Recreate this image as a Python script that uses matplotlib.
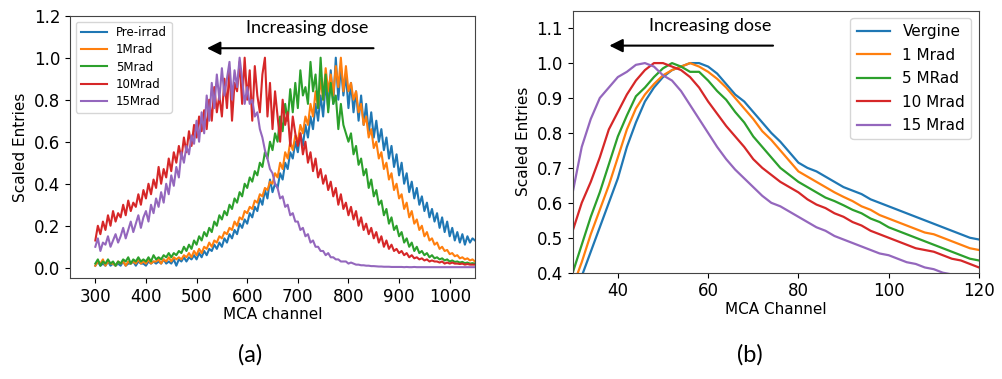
import matplotlib.pyplot as plt
import numpy as np

# ---- (a) raw MCA spectra, read every 5 channels from 300 to 1050 ----
channel_a = np.arange(300, 1051, 5)

pre_irrad = [
    0.01, 0.03, 0.01, 0.02, 0.01, 0.03, 0.01, 0.02, 0.01, 0.02,
    0.01, 0.03, 0.01, 0.02, 0.02, 0.03, 0.01, 0.03, 0.02, 0.02,
    0.01, 0.03, 0.02, 0.03, 0.02, 0.03, 0.02, 0.04, 0.02, 0.03,
    0.02, 0.04, 0.01, 0.04, 0.03, 0.05, 0.03, 0.05, 0.04, 0.06,
    0.04, 0.07, 0.05, 0.08, 0.06, 0.09, 0.08, 0.11, 0.09, 0.12,
    0.10, 0.14, 0.12, 0.16, 0.14, 0.18, 0.16, 0.21, 0.19, 0.23,
    0.21, 0.26, 0.24, 0.29, 0.27, 0.33, 0.30, 0.37, 0.33, 0.42,
    0.36, 0.40, 0.38, 0.45, 0.42, 0.50, 0.47, 0.55, 0.52, 0.60,
    0.55, 0.64, 0.58, 0.68, 0.62, 0.72, 0.66, 0.78, 0.70, 0.82,
    0.72, 0.88, 0.76, 0.94, 0.78, 1.00, 0.80, 0.96, 0.82, 0.92,
    0.76, 0.88, 0.74, 0.84, 0.70, 0.82, 0.68, 0.78, 0.64, 0.74,
    0.62, 0.70, 0.60, 0.66, 0.56, 0.62, 0.52, 0.58, 0.48, 0.54,
    0.44, 0.50, 0.40, 0.45, 0.36, 0.41, 0.33, 0.38, 0.30, 0.34,
    0.27, 0.31, 0.24, 0.28, 0.22, 0.26, 0.19, 0.24, 0.17, 0.22,
    0.15, 0.19, 0.13, 0.17, 0.12, 0.16, 0.11, 0.15, 0.12, 0.14,
    0.13]

mrad1 = [
    0.01, 0.03, 0.02, 0.04, 0.01, 0.03, 0.02, 0.02, 0.01, 0.03,
    0.02, 0.03, 0.01, 0.03, 0.02, 0.03, 0.02, 0.04, 0.02, 0.03,
    0.02, 0.04, 0.02, 0.03, 0.03, 0.04, 0.02, 0.04, 0.03, 0.05,
    0.03, 0.05, 0.04, 0.05, 0.04, 0.06, 0.05, 0.07, 0.05, 0.08,
    0.06, 0.09, 0.07, 0.10, 0.09, 0.12, 0.10, 0.13, 0.12, 0.15,
    0.14, 0.17, 0.16, 0.19, 0.18, 0.22, 0.20, 0.24, 0.23, 0.27,
    0.26, 0.29, 0.28, 0.32, 0.31, 0.35, 0.34, 0.38, 0.37, 0.41,
    0.40, 0.45, 0.43, 0.50, 0.47, 0.55, 0.52, 0.60, 0.56, 0.63,
    0.60, 0.68, 0.64, 0.72, 0.68, 0.78, 0.72, 0.84, 0.76, 0.90,
    0.80, 0.95, 0.84, 0.92, 0.82, 0.96, 0.86, 1.00, 0.84, 0.96,
    0.84, 0.88, 0.80, 0.84, 0.74, 0.78, 0.68, 0.72, 0.62, 0.66,
    0.57, 0.60, 0.52, 0.55, 0.47, 0.50, 0.42, 0.45, 0.37, 0.40,
    0.33, 0.35, 0.28, 0.31, 0.24, 0.27, 0.21, 0.23, 0.18, 0.20,
    0.15, 0.17, 0.13, 0.14, 0.11, 0.12, 0.09, 0.10, 0.08, 0.085,
    0.065, 0.07, 0.055, 0.06, 0.045, 0.05, 0.04, 0.045, 0.035, 0.04,
    0.03]

mrad5 = [
    0.02, 0.04, 0.01, 0.03, 0.02, 0.04, 0.02, 0.03, 0.01, 0.03,
    0.02, 0.04, 0.03, 0.05, 0.02, 0.04, 0.03, 0.05, 0.03, 0.04,
    0.03, 0.05, 0.03, 0.06, 0.04, 0.05, 0.04, 0.06, 0.05, 0.07,
    0.05, 0.07, 0.06, 0.08, 0.07, 0.10, 0.08, 0.11, 0.09, 0.13,
    0.11, 0.15, 0.13, 0.17, 0.15, 0.19, 0.17, 0.22, 0.20, 0.25,
    0.23, 0.27, 0.25, 0.30, 0.28, 0.33, 0.31, 0.36, 0.34, 0.40,
    0.38, 0.43, 0.41, 0.46, 0.44, 0.50, 0.48, 0.55, 0.52, 0.60,
    0.56, 0.64, 0.60, 0.72, 0.65, 0.78, 0.70, 0.85, 0.74, 0.88,
    0.76, 0.94, 0.82, 0.86, 0.78, 0.98, 0.84, 0.92, 0.76, 1.00,
    0.80, 0.92, 0.74, 0.88, 0.78, 0.82, 0.66, 0.78, 0.68, 0.64,
    0.60, 0.64, 0.54, 0.58, 0.49, 0.52, 0.44, 0.47, 0.38, 0.42,
    0.34, 0.37, 0.30, 0.32, 0.25, 0.28, 0.21, 0.24, 0.18, 0.20,
    0.15, 0.17, 0.12, 0.14, 0.10, 0.12, 0.08, 0.10, 0.07, 0.08,
    0.06, 0.07, 0.05, 0.06, 0.045, 0.05, 0.04, 0.045, 0.035, 0.04,
    0.03, 0.035, 0.028, 0.03, 0.025, 0.028, 0.022, 0.025, 0.02, 0.022,
    0.02]

mrad10 = [
    0.13, 0.20, 0.16, 0.22, 0.18, 0.25, 0.20, 0.27, 0.22, 0.26,
    0.24, 0.30, 0.25, 0.32, 0.27, 0.31, 0.29, 0.35, 0.30, 0.37,
    0.33, 0.40, 0.35, 0.42, 0.38, 0.48, 0.40, 0.47, 0.43, 0.52,
    0.46, 0.55, 0.50, 0.58, 0.52, 0.62, 0.55, 0.65, 0.58, 0.68,
    0.62, 0.72, 0.65, 0.75, 0.66, 0.80, 0.70, 0.86, 0.74, 0.82,
    0.72, 0.90, 0.76, 0.95, 0.70, 0.88, 0.84, 0.98, 0.78, 1.00,
    0.80, 0.94, 0.70, 0.96, 0.82, 0.74, 0.92, 1.00, 0.72, 0.88,
    0.66, 0.84, 0.72, 0.60, 0.80, 0.68, 0.74, 0.58, 0.72, 0.64,
    0.58, 0.64, 0.54, 0.60, 0.50, 0.55, 0.46, 0.52, 0.43, 0.47,
    0.40, 0.44, 0.37, 0.41, 0.34, 0.38, 0.30, 0.35, 0.28, 0.31,
    0.25, 0.29, 0.23, 0.27, 0.20, 0.24, 0.18, 0.21, 0.16, 0.19,
    0.14, 0.17, 0.12, 0.15, 0.10, 0.13, 0.09, 0.11, 0.08, 0.09,
    0.07, 0.08, 0.06, 0.07, 0.05, 0.06, 0.045, 0.05, 0.04, 0.045,
    0.035, 0.04, 0.03, 0.035, 0.03, 0.03, 0.025, 0.03, 0.02, 0.025,
    0.02, 0.025, 0.02, 0.02, 0.018, 0.02, 0.015, 0.018, 0.015, 0.015,
    0.015]

mrad15 = [
    0.10, 0.14, 0.08, 0.12, 0.11, 0.15, 0.10, 0.13, 0.16, 0.12,
    0.15, 0.19, 0.14, 0.18, 0.22, 0.17, 0.21, 0.25, 0.19, 0.24,
    0.27, 0.22, 0.30, 0.26, 0.33, 0.29, 0.36, 0.31, 0.40, 0.35,
    0.44, 0.39, 0.48, 0.43, 0.55, 0.50, 0.58, 0.54, 0.63, 0.59,
    0.70, 0.60, 0.74, 0.64, 0.82, 0.70, 0.88, 0.76, 0.92, 0.80,
    0.95, 0.82, 0.90, 0.98, 0.80, 0.94, 0.86, 1.00, 0.90, 0.78,
    0.86, 0.78, 0.80, 0.72, 0.74, 0.66, 0.62, 0.56, 0.52, 0.47,
    0.45, 0.40, 0.38, 0.33, 0.34, 0.29, 0.30, 0.25, 0.26, 0.22,
    0.22, 0.18, 0.19, 0.15, 0.16, 0.12, 0.13, 0.10, 0.10, 0.08,
    0.08, 0.06, 0.07, 0.05, 0.05, 0.04, 0.04, 0.03, 0.03, 0.03,
    0.02, 0.025, 0.02, 0.015, 0.015, 0.012, 0.012, 0.01, 0.01, 0.008,
    0.008, 0.007, 0.006, 0.006, 0.005, 0.005, 0.005, 0.004, 0.004, 0.004,
    0.004, 0.004, 0.003, 0.004, 0.003, 0.003, 0.004, 0.003, 0.003, 0.003,
    0.003, 0.003, 0.003, 0.003, 0.003, 0.003, 0.003, 0.003, 0.003, 0.003,
    0.003, 0.003, 0.003, 0.003, 0.003, 0.003, 0.003, 0.003, 0.003, 0.003,
    0.003]

labels_a = ['Pre-irrad', '1Mrad', '5Mrad', '10Mrad', '15Mrad']

# ---- (b) smoothed spectra, every 2 channels from 30 to 120 ----
channel_b = np.arange(30, 121, 2)

vergine = [
    0.33, 0.39, 0.46, 0.53, 0.60, 0.67, 0.76, 0.83, 0.89, 0.93,
    0.96, 0.98, 0.99, 1.00, 1.00, 0.99, 0.97, 0.94, 0.91, 0.89,
    0.86, 0.83, 0.80, 0.775, 0.745, 0.715, 0.70, 0.69, 0.675, 0.66,
    0.645, 0.635, 0.625, 0.61, 0.60, 0.59, 0.58, 0.57, 0.56, 0.55,
    0.54, 0.53, 0.52, 0.51, 0.50, 0.495]

b_mrad1 = [
    0.36, 0.43, 0.51, 0.58, 0.65, 0.73, 0.81, 0.87, 0.91, 0.94,
    0.965, 0.98, 0.99, 1.00, 0.99, 0.975, 0.955, 0.93, 0.90, 0.87,
    0.84, 0.805, 0.78, 0.75, 0.72, 0.69, 0.675, 0.66, 0.645, 0.63,
    0.617, 0.605, 0.59, 0.58, 0.565, 0.555, 0.545, 0.535, 0.525, 0.515,
    0.51, 0.50, 0.49, 0.48, 0.47, 0.465]

b_mrad5 = [
    0.40, 0.48, 0.56, 0.63, 0.71, 0.79, 0.85, 0.905, 0.93, 0.96,
    0.985, 1.00, 0.99, 0.975, 0.975, 0.95, 0.92, 0.895, 0.86, 0.83,
    0.79, 0.76, 0.73, 0.70, 0.68, 0.66, 0.645, 0.63, 0.615, 0.605,
    0.593, 0.58, 0.57, 0.555, 0.545, 0.53, 0.52, 0.51, 0.50, 0.49,
    0.48, 0.47, 0.46, 0.45, 0.44, 0.435]

b_mrad10 = [
    0.52, 0.60, 0.66, 0.73, 0.81, 0.86, 0.91, 0.95, 0.98, 1.00,
    1.00, 0.99, 0.98, 0.96, 0.93, 0.89, 0.855, 0.82, 0.79, 0.76,
    0.725, 0.70, 0.68, 0.66, 0.645, 0.63, 0.61, 0.595, 0.585, 0.57,
    0.56, 0.545, 0.535, 0.52, 0.51, 0.50, 0.49, 0.48, 0.47, 0.465,
    0.46, 0.45, 0.44, 0.435, 0.425, 0.415]

b_mrad15 = [
    0.63, 0.76, 0.84, 0.90, 0.93, 0.96, 0.975, 0.995, 1.00, 0.99,
    0.965, 0.95, 0.92, 0.88, 0.84, 0.80, 0.76, 0.725, 0.695, 0.67,
    0.645, 0.62, 0.60, 0.59, 0.575, 0.56, 0.545, 0.53, 0.52, 0.505,
    0.495, 0.485, 0.475, 0.465, 0.455, 0.45, 0.44, 0.43, 0.425, 0.415,
    0.41, 0.40, 0.395, 0.39, 0.385, 0.38]

labels_b = ['Vergine', '1 Mrad', '5 MRad', '10 Mrad', '15 Mrad']

colors = ['#1f77b4', '#ff7f0e', '#2ca02c', '#d62728', '#9467bd']

fig = plt.figure(figsize=(10.03, 3.79), dpi=100)

# left panel
ax1 = fig.add_axes([0.0698, 0.2657, 0.4038, 0.693])
for ys, lab, c in zip([pre_irrad, mrad1, mrad5, mrad10, mrad15], labels_a, colors):
    ax1.plot(channel_a, ys, color=c, lw=1.5, label=lab)
ax1.set_xlim(250, 1050)
ax1.set_ylim(-0.05, 1.2)
ax1.set_xticks(range(300, 1001, 100))
ax1.set_yticks(np.arange(0, 1.21, 0.2))
ax1.tick_params(labelsize=12)
ax1.set_xlabel('MCA channel', fontsize=11, labelpad=1)
ax1.set_ylabel('Scaled Entries', fontsize=11)
ax1.legend(loc='upper left', fontsize=8.5, handlelength=2.2, labelspacing=0.35)
ax1.annotate('', xy=(515, 1.045), xytext=(855, 1.045),
             arrowprops=dict(arrowstyle='-|>', color='black', lw=1.5, mutation_scale=20))
ax1.text(718, 1.14, 'Increasing dose', ha='center', va='center', fontsize=13, family='Lato')

# right panel
ax2 = fig.add_axes([0.571, 0.2805, 0.405, 0.6913])
for ys, lab, c in zip([vergine, b_mrad1, b_mrad5, b_mrad10, b_mrad15], labels_b, colors):
    ax2.plot(channel_b, ys, color=c, lw=1.6, label=lab)
ax2.set_xlim(30, 120)
ax2.set_ylim(0.4, 1.15)
ax2.set_xticks([40, 60, 80, 100, 120])
ax2.set_yticks(np.arange(0.4, 1.11, 0.1))
ax2.tick_params(labelsize=12)
ax2.set_xlabel('MCA Channel', fontsize=11, labelpad=1)
ax2.set_ylabel('Scaled Entries', fontsize=11)
ax2.legend(loc='upper right', fontsize=11, handlelength=2.2, labelspacing=0.55)
ax2.annotate('', xy=(37.5, 1.05), xytext=(75, 1.05),
             arrowprops=dict(arrowstyle='-|>', color='black', lw=1.5, mutation_scale=20))
ax2.text(60.5, 1.107, 'Increasing dose', ha='center', va='center', fontsize=13, family='Lato')

for ax in (ax1, ax2):
    for s in ax.spines.values():
        s.set_color('#444444')

fig.text(0.249, 0.063, '(a)', ha='center', va='center', fontsize=17, family='Lato')
fig.text(0.748, 0.063, '(b)', ha='center', va='center', fontsize=17, family='Lato')

fig.savefig('out.png', dpi=100)
